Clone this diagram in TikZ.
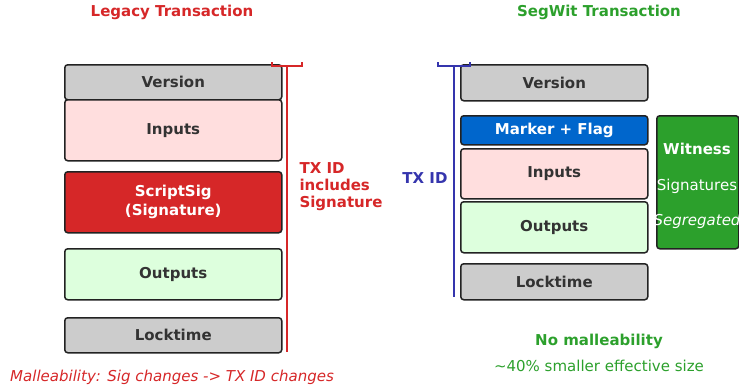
\documentclass[tikz,border=0pt]{standalone}
\usepackage{xcolor}
\usepackage{fontspec}
\setmainfont{DejaVu Sans}
\usepackage{tikz}
\usetikzlibrary{positioning}
\definecolor{legacyred}{HTML}{D62728}
\definecolor{segwitgreen}{HTML}{2CA02C}
\definecolor{txidblue}{HTML}{3535AD}
\definecolor{markerblue}{HTML}{0066CC}
\definecolor{fieldgray}{HTML}{CCCCCC}
\definecolor{inputpink}{HTML}{FFDEDE}
\definecolor{outputgreen}{HTML}{DDFFDD}
\definecolor{fieldink}{HTML}{333333}
\definecolor{fieldedge}{HTML}{222222}

\begin{document}
\begin{tikzpicture}[
  x=1pt, y=-1pt,
  font=\fontsize{15}{18}\selectfont,
  field/.style={draw=fieldedge, line width=1.5pt, rounded corners=3pt,
    anchor=north west, inner sep=0pt, align=center,
    text=fieldink, font=\fontsize{15}{19}\selectfont\bfseries},
  legwidth/.style={minimum width=217pt},
  segwidth/.style={minimum width=187pt},
  heading/.style={font=\fontsize{15}{18}\selectfont\bfseries},
  legacyspan/.style={draw=legacyred, line width=2pt},
  segwitspan/.style={draw=txidblue, line width=2pt},
  witnesstext/.style={text=white, font=\fontsize{15}{18}\selectfont}
]
  \useasboundingbox (0,0) rectangle (739,386);

  \node[heading, text=legacyred] (legacytitle) at (172,12) {Legacy Transaction};
  \node[heading, text=segwitgreen] (segwittitle) at (599,12) {SegWit Transaction};

  \node[field, legwidth, minimum height=35pt, fill=fieldgray] (lversion) at (64,64) {Version};
  \node[field, legwidth, minimum height=61pt, fill=inputpink] (linputs) at (64,99) {Inputs};
  \node[field, legwidth, minimum height=61pt, fill=legacyred, text=white] (lscript) at (64,171) {ScriptSig\\(Signature)};
  \node[field, legwidth, minimum height=51pt, fill=outputgreen] (loutputs) at (64,248) {Outputs};
  \node[field, legwidth, minimum height=35pt, fill=fieldgray] (llock) at (64,317) {Locktime};

  \node[field, segwidth, minimum height=36pt, fill=fieldgray] (sversion) at (460,64) {Version};
  \node[field, segwidth, minimum height=29pt, fill=markerblue, text=white] (smarker) at (460,115) {Marker + Flag};
  \node[field, segwidth, minimum height=50pt, fill=inputpink] (sinputs) at (460,148) {Inputs};
  \node[field, segwidth, minimum height=51pt, fill=outputgreen] (soutputs) at (460,201) {Outputs};
  \node[field, segwidth, minimum height=36pt, fill=fieldgray] (slock) at (460,263) {Locktime};

  \node[field, minimum width=82pt, minimum height=133pt, fill=segwitgreen] (witness) at (656,115) {};
  \node[witnesstext, font=\fontsize{15}{18}\selectfont\bfseries] (witnessname) at (697,149) {Witness};
  \node[witnesstext] (witnesssig) at (697,186) {Signatures};
  \node[witnesstext, font=\fontsize{15}{18}\selectfont\itshape] (witnessseg) at (697,221) {Segregated};

  \coordinate (ltop) at (287,66);
  \coordinate (lbot) at (287,352);
  \coordinate (lcapl) at (272,62);
  \coordinate (lcapr) at (302,62);
  \draw[legacyspan] (ltop) -- (lbot);
  \draw[legacyspan] (lcapl) -- (lcapl |- ltop) -- (lcapr |- ltop) -- (lcapr);

  \coordinate (stop) at (454,66);
  \coordinate (sbot) at (454,297);
  \coordinate (scapl) at (438,62);
  \coordinate (scapr) at (470,62);
  \draw[segwitspan] (stop) -- (sbot);
  \draw[segwitspan] (scapl) -- (scapl |- stop) -- (scapr |- stop) -- (scapr);

  \node[heading, text=legacyred, anchor=west, align=left, font=\fontsize{15}{17}\selectfont\bfseries] (legacyid) at (296,187) {TX ID\\includes\\Signature};
  \node[heading, text=txidblue, anchor=east] (segwitid) at (451,178) {TX ID};

  \node[text=legacyred, font=\fontsize{15}{18}\selectfont\itshape] (legacynote) at (172,377) {Malleability: Sig changes -> TX ID changes};
  \node[heading, text=segwitgreen] (segwitnote) at (599,341) {No malleability};
  \node[text=segwitgreen] (segwitsize) at (599,366) {\textasciitilde40\% smaller effective size};
\end{tikzpicture}
\end{document}
